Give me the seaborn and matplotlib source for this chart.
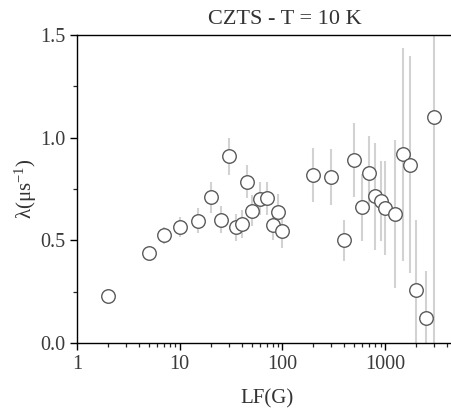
import matplotlib
matplotlib.use("Agg")
import matplotlib.pyplot as plt
import matplotlib.ticker as mticker
import numpy as np
import pandas as pd
import seaborn as sns

# Longitudinal-field muSR relaxation rate of CZTS at 10 K
field_G = [2, 5, 7, 10, 15, 20, 25, 30, 35, 40, 45, 50, 60, 70, 80, 90, 100,
           200, 300, 400, 500, 600, 700, 800, 900, 1000, 1250, 1500, 1750,
           2000, 2500, 3000]
lam = [0.23, 0.436, 0.524, 0.564, 0.595, 0.71, 0.60, 0.91, 0.563, 0.579,
       0.785, 0.644, 0.702, 0.704, 0.576, 0.639, 0.545,
       0.819, 0.809, 0.501, 0.889, 0.66, 0.83, 0.715, 0.691, 0.658, 0.629,
       0.919, 0.869, 0.26, 0.122, 1.10]
lam_err = [0.0, 0.02, 0.04, 0.05, 0.06, 0.075, 0.065, 0.09, 0.065, 0.07,
           0.08, 0.075, 0.08, 0.08, 0.075, 0.085, 0.08,
           0.13, 0.135, 0.10, 0.18, 0.165, 0.18, 0.26, 0.195, 0.23, 0.36,
           0.52, 0.53, 0.34, 0.23, 1.10]

df = pd.DataFrame({"LF": field_G, "lam": lam, "err": lam_err})

sns.set_style("ticks")
plt.rcParams["font.family"] = ["Liberation Serif", "DejaVu Serif"]
plt.rcParams["mathtext.fontset"] = "custom"
plt.rcParams["mathtext.rm"] = "Liberation Serif"
plt.rcParams["mathtext.it"] = "Liberation Serif:italic"

fig = plt.figure(figsize=(4.52, 4.12), dpi=100)
ax = fig.add_axes([0.1704, 0.1675, 0.8407, 0.7476])

ax.errorbar(df["LF"], df["lam"], yerr=df["err"], fmt="none",
            ecolor="#d2d2d2", elinewidth=1.5, capsize=0, zorder=1)
sns.scatterplot(data=df, x="LF", y="lam", ax=ax, s=95, marker="o",
                facecolor="white", edgecolor="#5a5a5a", linewidth=1.0,
                zorder=3, legend=False)

ax.set_xscale("log")
ax.set_xlim(1, 5000)
ax.set_ylim(0, 1.5)
ax.xaxis.set_major_locator(mticker.FixedLocator([1, 10, 100, 1000]))
ax.xaxis.set_major_formatter(mticker.FuncFormatter(lambda v, p: f"{v:g}"))
ax.xaxis.set_minor_locator(mticker.LogLocator(base=10, subs=np.arange(2, 10)))
ax.xaxis.set_minor_formatter(mticker.NullFormatter())
ax.yaxis.set_major_locator(mticker.MultipleLocator(0.5))
ax.yaxis.set_minor_locator(mticker.MultipleLocator(0.25))
ax.yaxis.set_major_formatter(mticker.FormatStrFormatter("%.1f"))

ax.tick_params(which="major", direction="out", length=5, width=1,
               labelsize=14.5, colors="black", labelcolor="#3a3a3a")
ax.tick_params(which="minor", direction="out", length=3, width=0.9)
for side in ["left", "bottom", "top", "right"]:
    ax.spines[side].set_visible(True)
    ax.spines[side].set_color("black")
    ax.spines[side].set_linewidth(1.0)

ax.set_xlabel("LF(G)", fontsize=15, color="#333333", labelpad=11)
ax.set_ylabel(r"λ(μs$^{-1}$)", fontsize=15, color="#333333", labelpad=1)
fig.text(285 / 452, 1 - 20 / 412, "CZTS - T = 10 K", fontsize=16,
         color="#333333", ha="center", va="center")

fig.savefig("out.png", dpi=100)
